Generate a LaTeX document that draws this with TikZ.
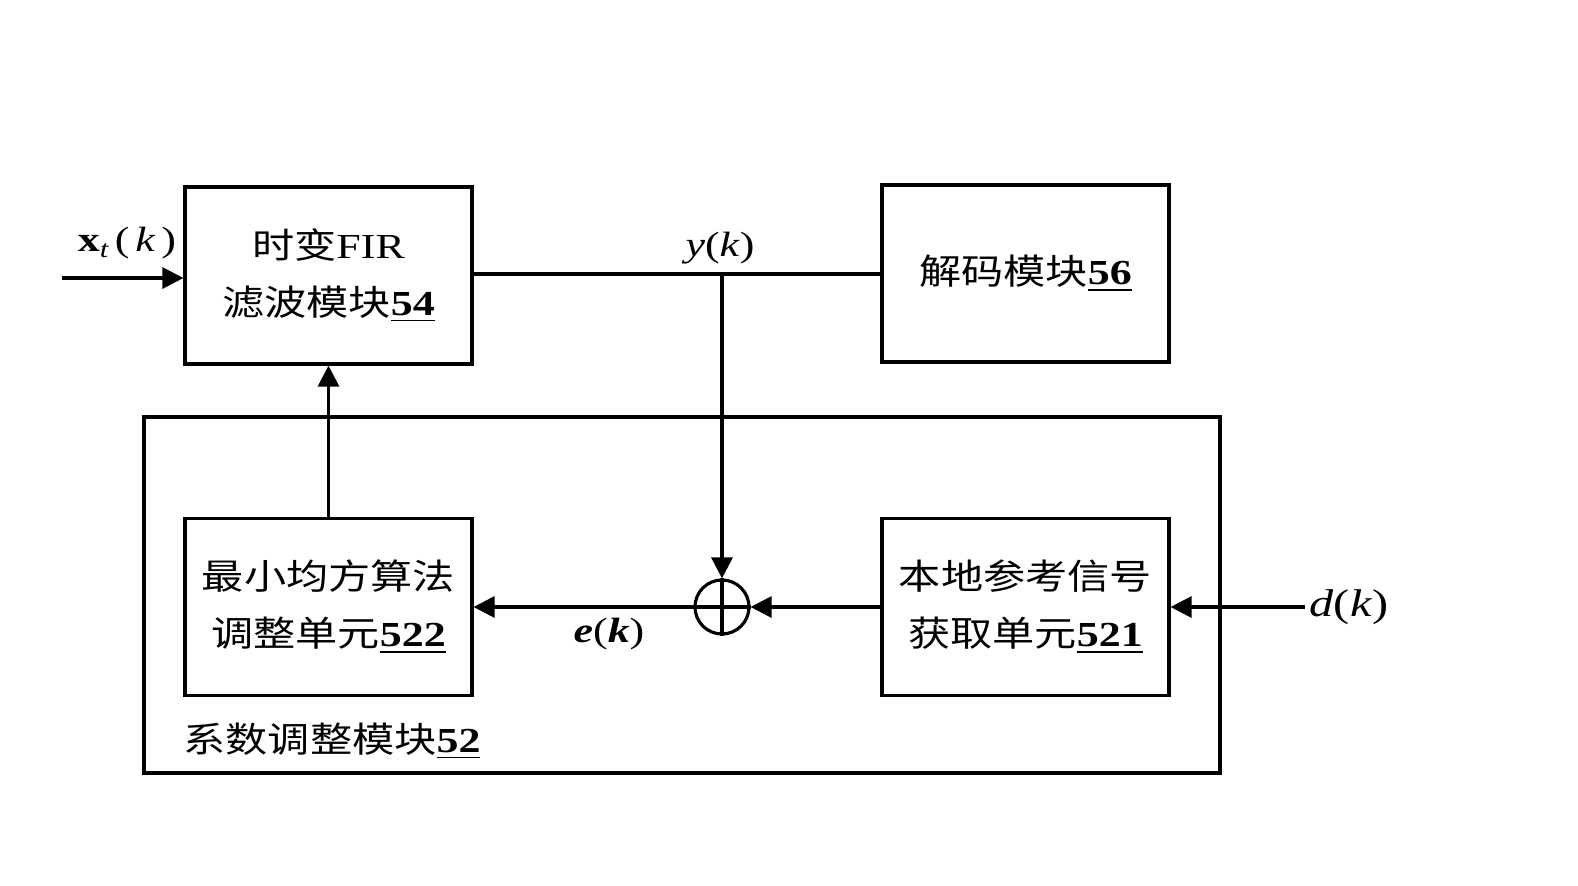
\documentclass[tikz,border=0pt]{standalone}
\usepackage{fontspec}
\setmainfont{Liberation Serif}[FakeStretch=1.25]
\newfontfamily\cjk{Noto Sans CJK SC}[FakeStretch=1.2]
\usetikzlibrary{arrows.meta}

\begin{document}
\begin{tikzpicture}
	[line width=0.9pt,>={Triangle[length=2.1mm,width=2.1mm]},
	every node/.style={font=\fontsize{10}{16.3}\selectfont},
	block/.style={draw,line width=0.9pt,minimum width=2.87cm,minimum height=1.77cm,align=center,inner sep=1pt},
	lbl/.style={inner sep=1pt}]
	\useasboundingbox (0,0) rectangle (15.78,8.85);
	% outer module
	\node[draw,line width=0.9pt,minimum width=10.76cm,minimum height=3.56cm] (coef) at (6.82,2.90) {};
	\node[lbl] (coeflbl) at (3.32,1.44) {{\cjk 系数调整模块}\underline{\textbf{52}}};
	% blocks
	\node[block] (fir) at (3.285,6.095) {{\cjk 时变}FIR\\{\cjk 滤波模块}\underline{\textbf{54}}};
	\node[block] (dec) at (10.255,6.115) {{\cjk 解码模块}\underline{\textbf{56}}};
	\node[block] (lms) at (3.285,2.78) {{\cjk 最小均方算法}\\{\cjk 调整单元}\underline{\textbf{522}}};
	\node[block] (ref) at (10.255,2.78) {{\cjk 本地参考信号}\\{\cjk 获取单元}\underline{\textbf{521}}};
	\node[draw,circle,line width=0.9pt,minimum size=0.54cm,inner sep=0pt] (sum) at (7.22,2.78) {};
	\draw (sum.north) -- (sum.south) (sum.west) -- (sum.east);
	% signals
	\coordinate (xin) at (0.62,6.07);
	\coordinate (tap) at (7.22,6.11);
	\node[lbl] (xlbl) at (1.27,6.42) {\textbf{x}\raisebox{-0.4ex}{\scriptsize\textit{t}}\,(\,\textit{k}\,)};
	\node[lbl] (ylbl) at (7.20,6.37) {\textit{y}(\textit{k})};
	\node[lbl] (elbl) at (6.09,2.51) {\textbf{\textit{e}}(\textbf{\textit{k}})};
	\node[lbl,font=\fontsize{11}{13}\selectfont] (dk) at (13.49,2.78) {\textit{d}(\textit{k})};

	\draw[->] (xin) -- (xin -| fir.west);
	\draw (fir.east |- tap) -- (tap) -- (tap -| dec.west);
	\draw[->] (tap) -- (sum.north);
	\foreach \startNode/\endNode in {lms.north/fir.south, ref.west/sum.east, sum.west/lms.east}
	{
		\draw[->] (\startNode) -- (\endNode);
	}
	\draw[->] (dk.west) -- (dk.west -| ref.east);
\end{tikzpicture}
\end{document}
